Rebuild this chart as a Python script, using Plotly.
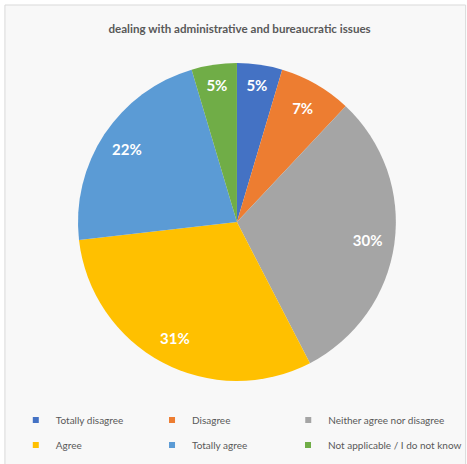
import plotly.graph_objects as go

# slice shares (%)
labels = ["Totally disagree", "Disagree", "Neither agree nor disagree",
          "Agree", "Totally agree", "Not applicable / I do not know"]
values = [4.6, 7.4, 30.4, 30.8, 22.2, 4.6]
colors = ["#4472C4", "#ED7D31", "#A5A5A5", "#FFC000", "#5B9BD5", "#70AD47"]

W, H = 467, 464
cx, cy, r = 240, 222, 161
dom = dict(x=[(cx - r) / W, (cx + r) / W], y=[(H - cy - r) / H, (H - cy + r) / H])

fig = go.Figure()
# the coloured pie
fig.add_trace(go.Pie(
    labels=labels, values=values, sort=False, direction="clockwise", rotation=0,
    marker=dict(colors=colors, line=dict(width=0)),
    textinfo="none", domain=dom, showlegend=False,
    hoverinfo="label+percent",
))
# transparent ring on top, only to push the % labels out toward the rim
fig.add_trace(go.Pie(
    labels=labels, values=values, sort=False, direction="clockwise", rotation=0,
    hole=0.66, marker=dict(colors=["rgba(0,0,0,0)"] * len(labels), line=dict(width=0)),
    texttemplate="<b>%{percent:.0%}</b>", textposition="inside",
    insidetextorientation="horizontal",
    textfont=dict(family="Lato", size=15, color="white"),
    domain=dom, showlegend=False, hoverinfo="skip",
))

# legend: one small legend per entry, laid out in 2 rows x 3 columns
col_x = [16, 154, 292]
row_y = [420, 445]
legends = {}
for i, (lab, col) in enumerate(zip(labels, colors)):
    key = "legend" if i == 0 else "legend%d" % (i + 1)
    fig.add_trace(go.Scatter(
        x=[None], y=[None], mode="markers", name=lab,
        marker=dict(symbol="square", size=6, color=col),
        legend=key,
    ))
    legends[key] = dict(
        orientation="h", xanchor="left", yanchor="middle",
        x=col_x[i % 3] / W, y=1 - row_y[i // 3] / H, itemwidth=30,
        font=dict(family="Lato", size=10, color="#595959"),
        bgcolor="rgba(0,0,0,0)")

fig.update_layout(
    width=W, height=H,
    margin=dict(l=0, r=0, t=0, b=0),
    paper_bgcolor="white", plot_bgcolor="rgba(0,0,0,0)",
    xaxis=dict(visible=False), yaxis=dict(visible=False),
    title=dict(text="<b>dealing with administrative and bureaucratic issues</b>",
               x=0.513, xanchor="center", y=1 - 29 / H, yanchor="middle",
               font=dict(family="Lato", size=11.6, color="#595959")),
    shapes=[dict(type="rect", xref="paper", yref="paper",
                 x0=5 / W, x1=1.01, y0=-0.01, y1=1 - 5 / H,
                 fillcolor="#F8F8F8",
                 line=dict(color="#D9D9D9", width=1), layer="below")],
    **legends,
)

fig.write_html("out.html", config={"displayModeBar": False},
               post_script="document.body.style.margin='0';")
